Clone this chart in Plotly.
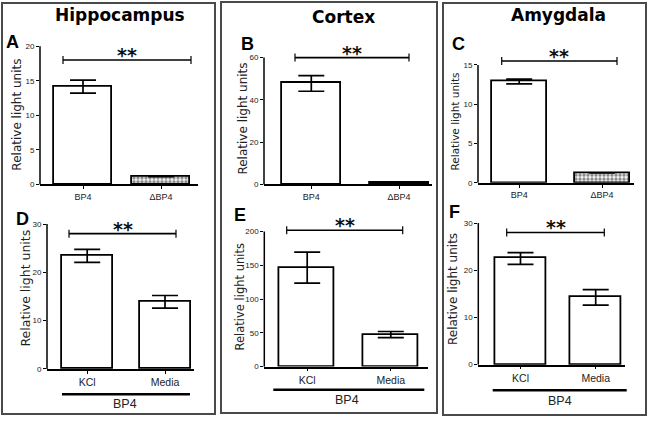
import plotly.graph_objects as go

W, H = 650, 422

# ---------------- data ----------------
regions = ["Hippocampus", "Cortex", "Amygdala"]
panel_letters = ["A", "B", "C", "D", "E", "F"]
cats_top = ["BP4", "ΔBP4"]
cats_bottom = ["KCl", "Media"]
group_label = "BP4"
y_title = "Relative light units"

vals_A = [14.15, 1.15]
errs_A = [0.95, 0.0]
vals_B = [47.8, 0.9]
errs_B = [3.7, 0.0]
vals_C = [12.9, 1.25]
errs_C = [0.3, 0.0]
vals_D = [23.4, 13.9]
errs_D = [1.35, 1.3]
vals_E = [146.5, 47.5]
errs_E = [23.0, 4.5]
vals_F = [22.5, 14.25]
errs_F = [1.25, 1.65]

ticks_A = [0, 5, 10, 15, 20]
ticks_B = [0, 20, 40, 60]
ticks_C = [0, 5, 10, 15]
ticks_D = [0, 10, 20, 30]
ticks_E = [0, 50, 100, 150, 200]
ticks_F = [0, 10, 20, 30]

sig_level = [18, 60, 15.5, 28, 202, 28]
sig_text = "**"

panels = [
    (cats_top, vals_A, errs_A, ticks_A),
    (cats_top, vals_B, errs_B, ticks_B),
    (cats_top, vals_C, errs_C, ticks_C),
    (cats_bottom, vals_D, errs_D, ticks_D),
    (cats_bottom, vals_E, errs_E, ticks_E),
    (cats_bottom, vals_F, errs_F, ticks_F),
]

# ---------------- layout geometry (pixels) ----------------
geo = [
    dict(xl=40, xr=198, c0=83, c1=161, bw=58, y0=186.7, yT=46.7, top=21.5,
         br=(63, 191), ytx=17, yty=116, ytfs=12, lx=12, ly=43, bar_hatch=True),
    dict(xl=264, xr=432, c0=311.3, c1=399, bw=59, y0=186.7, yT=58.3, top=66,
         br=(295, 409), ytx=243, yty=120, ytfs=12, lx=247, ly=45, bar_hatch=True),
    dict(xl=478, xr=634, c0=519.2, c1=602, bw=55, y0=185, yT=65.7, top=17,
         br=(501.7, 617), ytx=455, yty=123, ytfs=10.5, lx=458, ly=45, bar_hatch=True),
    dict(xl=47, xr=194, c0=87.2, c1=165, bw=51, y0=373.3, yT=226.7, top=31.5,
         br=(69, 176), ytx=26, yty=292, ytfs=12.5, lx=22, ly=222, bar_hatch=False,
         gl=(62, 190, 399), gt=(125, 409)),
    dict(xl=264.3, xr=428, c0=307.2, c1=390.8, bw=55, y0=371, yT=234.3, top=220,
         br=(286.7, 402.7), ytx=240, yty=301, ytfs=11.5, lx=240, ly=218, bar_hatch=False,
         gl=(273.3, 424.3, 394.3), gt=(347, 404.3)),
    dict(xl=478.3, xr=625, c0=520.5, c1=595.7, bw=51, y0=369, yT=225.7, top=31.5,
         br=(506.7, 604.3), ytx=453, yty=292.5, ytfs=12, lx=455, ly=215, bar_hatch=False,
         gl=(492.7, 626.7, 395), gt=(560, 406)),
]

boxes = [(2, 3, 215, 419), (221, 2, 437, 418), (443, 3, 646, 420)]
titles_pos = [(120, 15), (343, 17), (558, 15)]

TICKFONT = "Liberation Sans, Arial, sans-serif"
BOLDFONT = "DejaVu Sans, Verdana, sans-serif"


def px(x):
    return x / W


def py(y):
    return 1 - y / H


fig = go.Figure()
shapes = []
annotations = []

for i, ((cats, vals, errs, ticks), g) in enumerate(zip(panels, geo)):
    n = i + 1
    xa = "x" if n == 1 else f"x{n}"
    ya = "y" if n == 1 else f"y{n}"
    T = ticks[-1]
    R = g["top"]
    u = g["c1"] - g["c0"]
    xrange = [-(g["c0"] - g["xl"]) / u, 1 + (g["xr"] - g["c1"]) / u]
    ytop_px = g["y0"] - (g["y0"] - g["yT"]) * R / T

    if g["bar_hatch"]:
        pattern = dict(shape=["", "."], fgcolor="#111111", bgcolor="white",
                       size=4, solidity=0.6)
    else:
        pattern = dict(shape="")

    fig.add_trace(go.Bar(
        x=cats, y=vals, xaxis=xa, yaxis=ya,
        width=g["bw"] / u,
        marker=dict(color="white", line=dict(color="black", width=1.8),
                    pattern=pattern),
        error_y=dict(type="data", array=errs, visible=True, color="black",
                     thickness=1.7, width=13),
        showlegend=False,
    ))

    fig.update_layout(**{
        ("xaxis" if n == 1 else f"xaxis{n}"): dict(
            domain=[px(g["xl"]), px(g["xr"])], anchor=ya, type="category",
            range=xrange, showline=True, linecolor="black", linewidth=1.5,
            ticks="outside", ticklen=3, tickcolor="black", showgrid=False,
            tickfont=dict(family=TICKFONT, size=9 if i < 3 else 10.5, color="#222"),
        ),
        ("yaxis" if n == 1 else f"yaxis{n}"): dict(
            domain=[py(g["y0"]), py(ytop_px)], anchor=xa, range=[0, R],
            showline=False, zeroline=False, showgrid=False,
            tickvals=ticks, ticks="outside", ticklen=3, tickcolor="black",
            tickfont=dict(family=TICKFONT, size=8, color="#222"),
        ),
    })

    # y-axis line up to the top tick
    shapes.append(dict(type="line", xref=f"{xa} domain", yref=f"{ya} domain",
                       x0=0, x1=0, y0=0, y1=T / R,
                       line=dict(color="black", width=1.5)))

    # significance bracket
    b0 = (g["br"][0] - g["c0"]) / u
    b1 = (g["br"][1] - g["c0"]) / u
    lvl = sig_level[i]
    shapes.append(dict(type="line", xref=xa, yref=ya, x0=b0, x1=b1, y0=lvl, y1=lvl,
                       line=dict(color="black", width=1.6)))
    for bx in (b0, b1):
        shapes.append(dict(type="line", xref=xa, yref=ya, ysizemode="pixel",
                           yanchor=lvl, x0=bx, x1=bx, y0=-4, y1=4,
                           line=dict(color="black", width=1.2)))
    annotations.append(dict(xref=xa, yref=ya, x=(b0 + b1) / 2, y=lvl,
                            text=f"<b>{sig_text}</b>", showarrow=False, yanchor="middle",
                            yshift=5, font=dict(family=BOLDFONT, size=19, color="#111")))

    # y axis title
    annotations.append(dict(xref="paper", yref="paper", x=px(g["ytx"]), y=py(g["yty"]),
                            text=y_title, textangle=-90, showarrow=False,
                            xanchor="center", yanchor="middle",
                            font=dict(family="DejaVu Sans, sans-serif",
                                      size=g["ytfs"], color="#222")))
    # panel letter
    annotations.append(dict(xref="paper", yref="paper", x=px(g["lx"]), y=py(g["ly"]),
                            text=f"<b>{panel_letters[i]}</b>", showarrow=False,
                            xanchor="center", yanchor="middle",
                            font=dict(family="Liberation Sans, Arial, sans-serif",
                                      size=18, color="black")))
    # group label for bottom row
    if "gl" in g:
        x0, x1, yl = g["gl"]
        shapes.append(dict(type="line", xref="paper", yref="paper",
                           x0=px(x0), x1=px(x1), y0=py(yl), y1=py(yl),
                           line=dict(color="black", width=2.5)))
        annotations.append(dict(xref="paper", yref="paper", x=px(g["gt"][0]),
                                y=py(g["gt"][1]), text=group_label, showarrow=False,
                                xanchor="center", yanchor="middle",
                                font=dict(family=TICKFONT, size=12.5, color="#222")))

# region titles
for (tx, ty), t in zip(titles_pos, regions):
    annotations.append(dict(xref="paper", yref="paper", x=px(tx), y=py(ty),
                            text=f"<b>{t}</b>", showarrow=False,
                            xanchor="center", yanchor="middle",
                            font=dict(family=BOLDFONT, size=17, color="black")))

# column boxes
for (x0, y0, x1, y1) in boxes:
    shapes.append(dict(type="rect", xref="paper", yref="paper",
                       x0=px(x0), x1=px(x1), y0=py(y1), y1=py(y0),
                       line=dict(color="#4a4a4a", width=2), layer="below"))

fig.update_layout(
    width=W, height=H, margin=dict(l=0, r=0, t=0, b=0),
    paper_bgcolor="white", plot_bgcolor="white",
    shapes=shapes, annotations=annotations, bargap=0,
)

fig.write_html("out.html", config={"displayModeBar": False},
               post_script="document.body.style.margin='0';")
